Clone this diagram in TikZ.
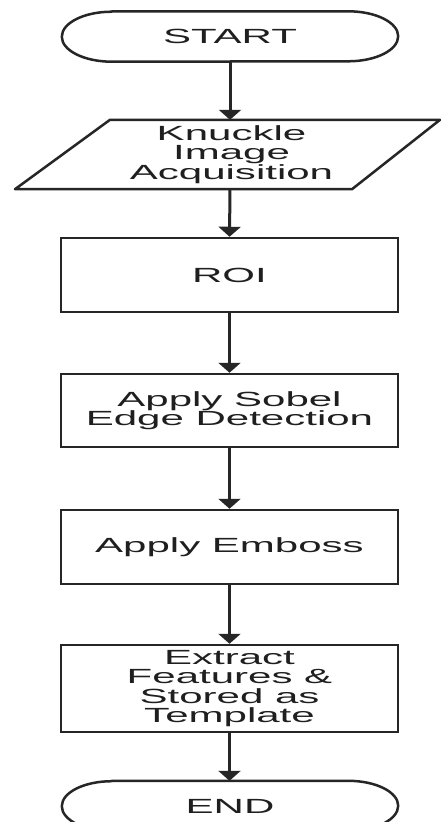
\documentclass[tikz,border=0pt]{standalone}
\usepackage{fontspec}
\setmainfont[FakeStretch=2.05]{Liberation Sans}
\usetikzlibrary{arrows.meta}
\begin{document}
\begin{tikzpicture}[x=1bp,y=1bp,
  lbl/.style={inner sep=0pt, align=center, text=black!88,
    font=\fontsize{20.5bp}{19.5bp}\selectfont},
  proc/.style={lbl, draw=black!85, line width=2.5bp, minimum width=337bp},
  shapeline/.style={draw=black!85, line width=2.5bp, line join=round},
  flow/.style={draw=black!85, line width=3bp, -{Triangle[length=10bp,width=22bp]}}]
\useasboundingbox (0,0) rectangle (441,-822);
\clip (0,0) rectangle (441,-822);
\fill[white] (0,0) rectangle (441,-822);

% START terminal
\node[lbl, minimum width=336bp, minimum height=50bp] (start) at (230,-36.5) {START};
\draw[shapeline] ([xshift=50bp]start.north west) -- ([xshift=-50bp]start.north east)
  arc[start angle=90, end angle=-90, x radius=50bp, y radius=25bp]
  -- ([xshift=50bp]start.south west)
  arc[start angle=270, end angle=90, x radius=50bp, y radius=25bp] -- cycle;

% Input parallelogram
\node[lbl, minimum width=240bp, minimum height=69bp] (acq) at (231.5,-154.5) {Knuckle\\Image\\Acquisition};
\draw[shapeline] ([xshift=-121.5bp]acq.north) -- ([xshift=208.5bp]acq.north)
  -- ([xshift=120.5bp]acq.south) -- ([xshift=-216.5bp]acq.south) -- cycle;

% Process boxes
\node[proc, minimum height=74bp] (roi) at (229.5,-275) {ROI};
\node[proc, minimum height=73bp] (sobel) at (229.5,-410.5) {Apply Sobel\\Edge Detection};
\node[proc, minimum height=74bp] (emboss) at (229.5,-547) {Apply Emboss};
\node[proc, minimum height=87bp] (extract) at (229.5,-688.5) {Extract\\Features \&\\Stored as\\Template};

% END terminal
\node[lbl, minimum width=336bp, minimum height=50bp] (end) at (230,-806) {END};
\draw[shapeline] ([xshift=50bp]end.north west) -- ([xshift=-50bp]end.north east)
  arc[start angle=90, end angle=-90, x radius=50bp, y radius=25bp]
  -- ([xshift=50bp]end.south west)
  arc[start angle=270, end angle=90, x radius=50bp, y radius=25bp] -- cycle;

% Connectors
\draw[flow] (start.south) -- (start.south |- acq.north);
\draw[flow] (acq.south -| start.south) -- (roi.north);
\draw[flow] (roi.south) -- (sobel.north);
\draw[flow] (sobel.south) -- (emboss.north);
\draw[flow] (emboss.south) -- (extract.north);
\draw[flow] (extract.south) -- (extract.south |- end.north);
\end{tikzpicture}
\end{document}
